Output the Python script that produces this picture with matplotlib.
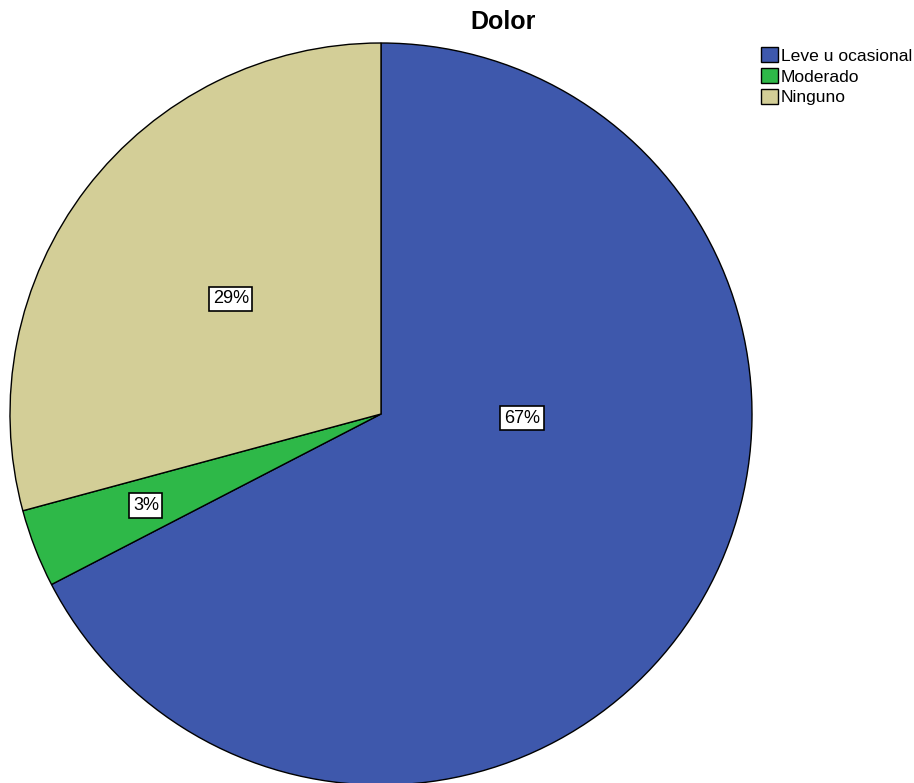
import numpy as np
import matplotlib
matplotlib.use('Agg')
import matplotlib.pyplot as plt

plt.rcParams['font.family'] = ['Liberation Sans', 'DejaVu Sans']

# datos
categorias = ['Leve u ocasional', 'Moderado', 'Ninguno']
porcentajes = [67.4, 3.4, 29.2]
etiquetas = ['67%', '3%', '29%']
colores = ['#3E58AC', '#2EB848', '#D3CE97']

# posicion radial de las etiquetas (estilo SPSS)
dist_etiqueta = [0.38, 0.68, 0.51]
giro_etiqueta = [29.6, 0.0, 0.0]

W, H = 914, 783
fig = plt.figure(figsize=(W / 100, H / 100), dpi=100)
cx, cy, r = 381, 414, 371
ax = fig.add_axes([(cx - r) / W, (H - cy - r) / H, 2 * r / W, 2 * r / H])

wedges, _ = ax.pie(porcentajes, colors=colores, startangle=90, counterclock=False,
                   radius=1, wedgeprops=dict(edgecolor='black', linewidth=1.0))
ax.set_xlim(-1, 1)
ax.set_ylim(-1, 1)
ax.set_aspect('equal')
ax.axis('off')

for w, txt, d, g in zip(wedges, etiquetas, dist_etiqueta, giro_etiqueta):
    ang = np.deg2rad((w.theta1 + w.theta2) / 2 + g)
    ax.text(d * np.cos(ang), d * np.sin(ang), txt, ha='center', va='center',
            fontsize=13, color='black',
            bbox=dict(boxstyle='square,pad=0.2', facecolor='white',
                      edgecolor='black', linewidth=1.2))

fig.text(503 / W, 1 - 22 / H, 'Dolor', ha='center', va='center',
         fontsize=18, fontweight='bold')

fig.legend(wedges, categorias, loc='upper left', bbox_to_anchor=(754 / W, 1 - 40 / H),
           frameon=False, fontsize=12.6, handlelength=0.95, handleheight=0.95,
           handletextpad=0.2, labelspacing=0.25, borderaxespad=0)

plt.savefig('out.png', dpi=100)
